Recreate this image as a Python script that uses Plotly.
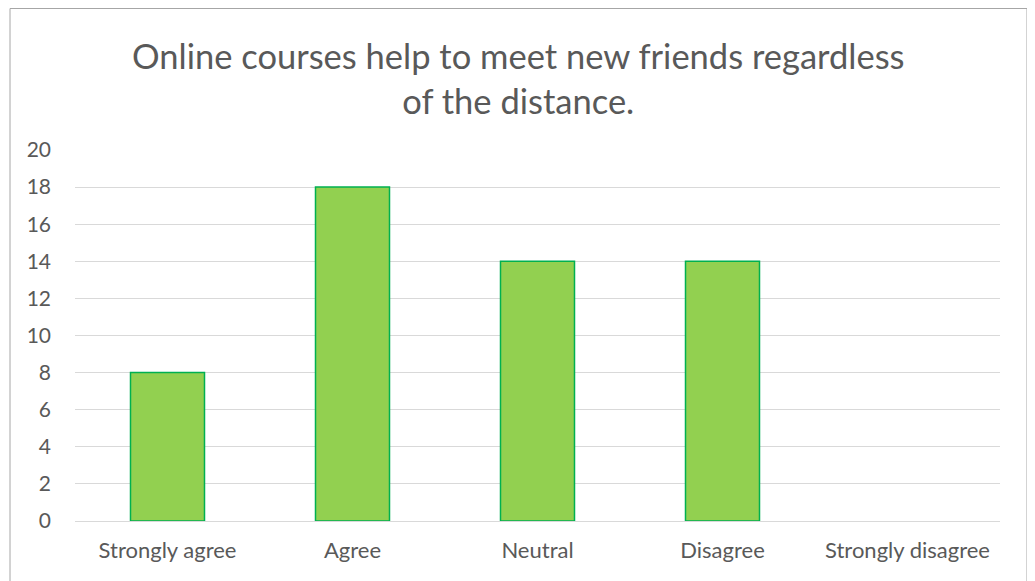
import plotly.graph_objects as go

categories = ["Strongly agree", "Agree", "Neutral", "Disagree", "Strongly disagree"]
values = [8, 18, 14, 14, 0]
title_text = "Online courses help to meet new friends regardless<br>of the distance."

OFF = 8  # page body margin
W, H = 1035 - OFF, 581 - OFF
L, R, T, B = 75 - OFF, 1000 - OFF, 150 - OFF, 521 - OFF

def px(x):
    return (x - OFF - L) / (R - L)

def py(y):
    return (B - (y - OFF)) / (B - T)

fig = go.Figure()
fig.add_trace(go.Bar(
    x=categories, y=values,
    marker=dict(color="#92d050",
                line=dict(color="#00b050", width=[1.5 if v > 0 else 0 for v in values])),
))

shapes = [
    dict(type="rect", xref="paper", yref="paper",
         x0=px(10), x1=px(1027), y0=py(600), y1=py(8.5),
         line=dict(color="#a6a6a6", width=1), fillcolor="rgba(0,0,0,0)", layer="below"),
    dict(type="path", xref="paper", yref="paper",
         path=f"M {px(1028)},{py(563)} L {px(1033)},{py(563)} L {px(1033)},{py(600)}",
         line=dict(color="#404040", width=1)),
]

fig.update_layout(
    width=W, height=H,
    margin=dict(l=L, r=W - R, t=T, b=H - B, autoexpand=False),
    paper_bgcolor="white", plot_bgcolor="white",
    font=dict(family="Lato, Carlito, sans-serif", color="#595959", size=22),
    bargap=0.6,
    showlegend=False,
    shapes=shapes,
    annotations=[dict(text=title_text, xref="paper", yref="paper",
                      x=px(518), y=py(78), xanchor="center", yanchor="middle",
                      showarrow=False, font=dict(size=34.5, color="#595959"))],
    xaxis=dict(showline=False, ticks="", showgrid=False, tickfont=dict(size=22),
               ticklabelstandoff=14),
    yaxis=dict(range=[0, 20], dtick=2, showgrid=True, gridcolor="#d9d9d9", gridwidth=1,
               zeroline=True, zerolinecolor="#d9d9d9", zerolinewidth=1,
               showline=False, ticks="", tickfont=dict(size=21), ticklabelstandoff=23),
)

fig.write_html("out.html")
